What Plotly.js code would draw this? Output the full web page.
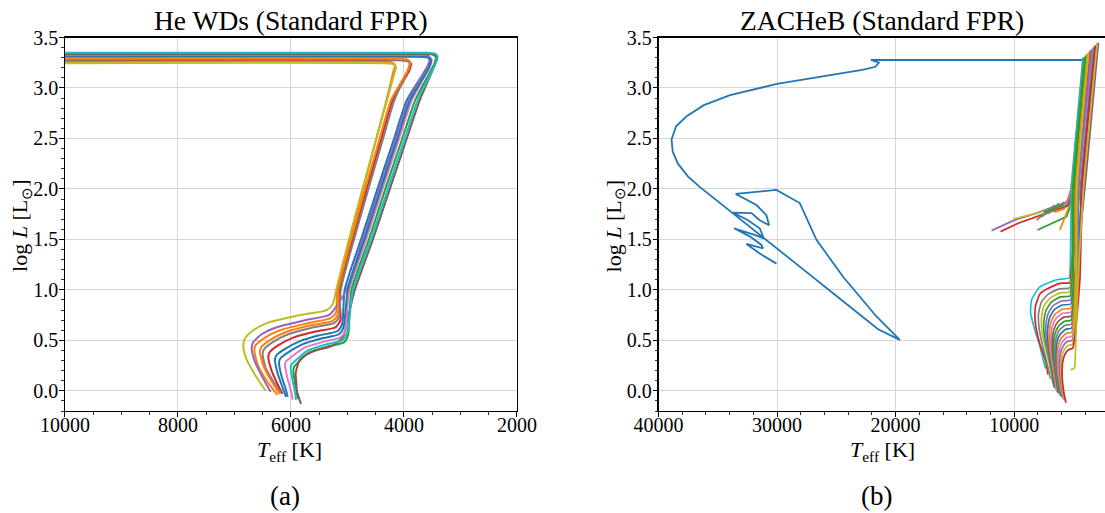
<!DOCTYPE html>
<html>
<head>
<meta charset="utf-8">
<script src="https://cdn.plot.ly/plotly-3.0.1.min.js"></script>
<style>html,body{margin:0;padding:0;background:#fff;}#chart{width:1105px;height:513px;}</style>
</head>
<body>
<div id="chart"></div>
<script>
// ---------- Panel (a): He WD tracks (Teff [K], log L) ----------
const heWdColors = ['#1f77b4','#ff7f0e','#2ca02c','#d62728','#9467bd','#8c564b','#e377c2','#7f7f7f','#bcbd22','#17becf','#1f77b4','#ff7f0e'];
const heWdTeff = [
  [10600,3770,3590,3535,3565,3950,4175,4470,4760,5050,5095,5180,5500,5850,6120,6260,6283,6240,6160,6088],
  [10600,4395,4215,4160,4190,4310,4490,4725,4960,5185,5200,5300,5700,6200,6480,6630,6650,6590,6430,6242],
  [10600,3670,3490,3435,3465,3800,4030,4330,4620,4930,4990,5060,5350,5680,5840,5940,5959,5930,5895,5882],
  [10600,4110,3930,3875,3905,4200,4400,4660,4910,5145,5125,5210,5550,5950,6230,6380,6402,6350,6250,6150],
  [10600,3785,3605,3550,3580,3920,4145,4440,4730,5020,5230,5330,5750,6250,6520,6670,6696,6640,6500,6360],
  [10600,3650,3470,3415,3445,3720,3950,4250,4550,4870,4986,5075,5250,5605,5840,5917,5905,5899,5860,5823],
  [10600,3745,3565,3510,3540,3860,4085,4380,4670,4970,5040,5120,5400,5750,5960,6090,6106,6060,6000,5970],
  [10600,4135,3955,3900,3930,4170,4370,4630,4885,5120,5150,5240,5600,6050,6330,6480,6502,6450,6320,6177],
  [10600,4375,4195,4140,4170,4300,4490,4735,4975,5200,5260,5368,5840,6430,6667,6814,6844,6785,6637,6448],
  [10600,3640,3460,3405,3435,3755,3985,4285,4580,4900,5010,5090,5380,5700,5880,5990,6005,5970,5930,5911],
  [10600,3755,3575,3520,3550,3890,4115,4410,4700,4995,5070,5150,5450,5800,6050,6190,6212,6170,6100,6058],
  [10600,4125,3945,3890,3920,4230,4430,4690,4935,5165,5175,5270,5650,6100,6380,6530,6549,6490,6350,6200]
];
const heWdLogL = [
  [3.33,3.33,3.322,3.295,3.23,2.88,2.5,2.0,1.5,1.0,0.66,0.59,0.55,0.49,0.41,0.35,0.31,0.18,0.05,-0.06],
  [3.26,3.26,3.252,3.225,3.16,2.88,2.5,2.0,1.5,1.0,0.78,0.72,0.67,0.60,0.52,0.45,0.40,0.26,0.10,-0.04],
  [3.34,3.34,3.332,3.305,3.24,2.88,2.5,2.0,1.5,1.0,0.55,0.48,0.44,0.38,0.30,0.24,0.20,0.08,-0.02,-0.08],
  [3.275,3.275,3.267,3.24,3.175,2.88,2.5,2.0,1.5,1.0,0.70,0.63,0.59,0.53,0.45,0.38,0.34,0.21,0.08,-0.03],
  [3.32,3.32,3.312,3.285,3.22,2.88,2.5,2.0,1.5,1.0,0.81,0.75,0.70,0.63,0.56,0.48,0.42,0.29,0.13,-0.01],
  [3.34,3.34,3.332,3.305,3.24,2.88,2.5,2.0,1.5,1.0,0.74,0.54,0.45,0.39,0.31,0.175,0.08,0.01,-0.07,-0.13],
  [3.315,3.315,3.307,3.28,3.215,2.88,2.5,2.0,1.5,1.0,0.60,0.53,0.49,0.43,0.35,0.29,0.25,0.12,0.0,-0.09],
  [3.28,3.28,3.272,3.245,3.18,2.88,2.5,2.0,1.5,1.0,0.73,0.67,0.63,0.56,0.48,0.41,0.36,0.23,0.10,-0.02],
  [3.245,3.245,3.237,3.21,3.145,2.88,2.5,2.0,1.5,1.0,0.86,0.80,0.75,0.67,0.60,0.52,0.44,0.31,0.16,0.0],
  [3.35,3.35,3.342,3.315,3.25,2.88,2.5,2.0,1.5,1.0,0.57,0.50,0.46,0.40,0.32,0.26,0.22,0.10,-0.01,-0.09],
  [3.31,3.31,3.302,3.275,3.21,2.88,2.5,2.0,1.5,1.0,0.63,0.56,0.52,0.46,0.38,0.32,0.28,0.15,0.03,-0.06],
  [3.29,3.29,3.282,3.255,3.19,2.88,2.5,2.0,1.5,1.0,0.75,0.69,0.65,0.58,0.50,0.43,0.38,0.25,0.10,-0.03]
];

// ---------- Panel (b): ZACHeB tracks ----------
const zacheBlueTeff = [4194,22085,21410,21705,22818,26337,30010,33967,36170,37630,38516,38895,38803,38364,37486,36524,33713,30896,28085,25274,21477,19646,21616,24431,26675,28085,30052,33486,31739,30896,30671,31461,32161,33764,32583,31461,31123,31883,33629,32304,31320,31181,32583,31461,30052];
const zacheBlueLogL = [3.277,3.277,3.25,3.21,3.18,3.11,3.04,2.93,2.83,2.72,2.62,2.49,2.37,2.25,2.12,2.02,1.76,1.495,1.23,0.967,0.61,0.505,0.736,1.13,1.495,1.86,1.99,1.95,1.84,1.74,1.64,1.69,1.76,1.765,1.70,1.61,1.51,1.545,1.61,1.53,1.445,1.41,1.455,1.36,1.26];

const zacheHookColors = ['#17becf','#d62728','#7f7f7f','#bcbd22','#2ca02c','#9467bd','#1f77b4','#ff7f0e','#e377c2','#8c564b','#2ca02c','#7f7f7f','#1f77b4','#ff7f0e','#e377c2','#9467bd','#bcbd22','#d62728','#bcbd22'];
const zacheHookTeff = [
  [4150,4700,5150,5280,5350,6420,7831,8532,8616,8250,7831,7553,7350],
  [3600,4650,5220,5300,6143,7200,7831,8200,8250,8166,7850,7553,7322,7150],
  [3300,4450,5200,5320,6200,7100,7700,7950,7900,7650,7350,7050,6950],
  [3850,4850,5150,5300,6150,6950,7500,7700,7650,7400,7100,6850,6800],
  [4050,5050,5120,5280,6100,6850,7300,7500,7450,7200,6950,6750,6700],
  [2890,4034,4950,5240,6000,6750,7150,7330,7280,7050,6800,6650,6600],
  [3100,4250,4850,5230,5950,6650,7020,7180,7130,6950,6750,6650,6624],
  [3700,4750,4800,5220,5900,6550,6900,7040,7000,6830,6650,6530,6500],
  [3400,4550,4750,5210,5850,6450,6780,6910,6870,6720,6550,6430,6400],
  [2950,4100,4700,5200,5800,6350,6670,6790,6750,6600,6450,6330,6300],
  [3950,4950,5000,5190,5750,6270,6570,6680,6640,6500,6360,6230,6200],
  [3500,4600,4650,5180,5700,6200,6470,6570,6530,6400,6260,6130,6100],
  [3200,4350,4560,5170,5650,6120,6370,6460,6430,6300,6150,6030,6000],
  [3800,4800,4850,5150,5600,6040,6280,6360,6330,6200,6050,5930,5900],
  [3050,4200,4500,5130,5550,5960,6180,6260,6230,6120,5980,5870,5850],
  [3450,4580,4600,5110,5500,5880,6080,6160,6130,6030,5900,5800,5780],
  [3750,4700,4750,5090,5450,5800,5990,6060,6030,5930,5800,5720,5700],
  [3150,4300,4460,5070,5400,5720,5890,5960,5930,5830,5720,5660,5640],
  [3000,4150,4600,4800,4876,4950,5250]
];
const zacheHookLogL = [
  [3.30,2.6,2.0,1.2,1.12,1.10,1.03,0.90,0.77,0.60,0.44,0.31,0.22],
  [3.36,2.0,1.14,1.07,1.065,1.01,0.96,0.84,0.74,0.63,0.47,0.37,0.28,0.16],
  [3.40,2.0,1.08,1.02,1.01,0.96,0.88,0.76,0.62,0.47,0.33,0.18,0.12],
  [3.33,2.0,1.1,0.98,0.97,0.92,0.84,0.72,0.58,0.44,0.30,0.15,0.09],
  [3.31,2.0,1.1,0.94,0.93,0.88,0.80,0.68,0.54,0.40,0.26,0.12,0.06],
  [3.45,2.0,1.1,0.90,0.89,0.84,0.76,0.64,0.50,0.36,0.22,0.09,0.04],
  [3.42,2.0,1.1,0.86,0.85,0.80,0.72,0.60,0.46,0.32,0.19,0.08,0.03],
  [3.35,2.0,1.1,0.82,0.81,0.76,0.68,0.56,0.42,0.29,0.16,0.06,0.01],
  [3.39,2.0,1.1,0.78,0.77,0.72,0.64,0.52,0.39,0.26,0.13,0.03,-0.01],
  [3.44,2.0,1.1,0.74,0.73,0.68,0.60,0.48,0.35,0.23,0.11,0.02,-0.02],
  [3.32,2.0,1.1,0.70,0.69,0.64,0.56,0.44,0.32,0.20,0.09,0.0,-0.03],
  [3.37,2.0,1.1,0.66,0.65,0.60,0.52,0.41,0.29,0.17,0.06,-0.02,-0.05],
  [3.41,2.0,1.1,0.62,0.61,0.56,0.49,0.38,0.26,0.14,0.03,-0.04,-0.06],
  [3.34,2.0,1.1,0.58,0.57,0.52,0.45,0.34,0.22,0.10,0.0,-0.05,-0.07],
  [3.43,2.0,1.1,0.54,0.53,0.48,0.41,0.31,0.19,0.08,-0.02,-0.06,-0.08],
  [3.38,2.0,1.1,0.50,0.49,0.44,0.38,0.28,0.16,0.05,-0.04,-0.08,-0.09],
  [3.35,2.0,1.1,0.46,0.45,0.40,0.34,0.25,0.13,0.02,-0.06,-0.09,-0.10],
  [3.42,2.0,1.1,0.42,0.41,0.36,0.30,0.21,0.10,0.0,-0.07,-0.10,-0.12],
  [3.44,2.0,1.1,0.5,0.26,0.22,0.21]
];

const zacheTailColors = ['#9467bd','#d62728','#bcbd22','#2ca02c','#7f7f7f','#ff7f0e','#2ca02c','#1f77b4','#ff7f0e','#e377c2','#8c564b'];
const zacheTailTeff = [
  [11907,10084,8110,6987,5578,5200,3250],
  [11148,9662,7266,5578,5250,4300,3350],
  [10084,8500,6800,5500,5200,3650],
  [8025,6420,5578,5350,5100,3900],
  [8110,6600,7700,6200,7200,5800,6500,5500,5250,4200],
  [6143,5700,5450,5300,5050,3550],
  [7500,7000,5600,5350,5150,3500],
  [5900,5450,5250,5000,3000],
  [6600,5800,5450,5200,3700],
  [5800,5450,5300,5100,3300],
  [5700,5400,5200,4950,3150]
];
const zacheTailLogL = [
  [1.587,1.686,1.76,1.81,1.86,2.0,3.41],
  [1.577,1.66,1.76,1.83,1.95,2.6,3.39],
  [1.70,1.75,1.80,1.85,2.0,3.36],
  [1.594,1.676,1.726,1.80,2.0,3.33],
  [1.69,1.84,1.72,1.86,1.75,1.87,1.80,1.88,1.95,3.30],
  [1.594,1.72,1.80,1.88,2.05,3.37],
  [1.77,1.79,1.85,1.88,2.0,3.38],
  [1.80,1.84,1.92,2.1,3.44],
  [1.77,1.80,1.86,2.0,3.35],
  [1.84,1.86,1.92,2.05,3.40],
  [1.82,1.85,1.93,2.1,3.42]
];

// ---------- build traces ----------
const traces = [];
heWdTeff.forEach((t, i) => traces.push({
  x: t, y: heWdLogL[i], xaxis: 'x', yaxis: 'y', mode: 'lines', hoverinfo: 'skip',
  line: {color: heWdColors[i], width: 2, shape: 'spline', smoothing: 0.6}
}));
traces.push({
  x: zacheBlueTeff, y: zacheBlueLogL, xaxis: 'x2', yaxis: 'y2', mode: 'lines', hoverinfo: 'skip',
  line: {color: '#1f77b4', width: 1.8}
});
zacheTailTeff.forEach((t, i) => traces.push({
  x: t, y: zacheTailLogL[i], xaxis: 'x2', yaxis: 'y2', mode: 'lines', hoverinfo: 'skip',
  line: {color: zacheTailColors[i], width: 1.7}
}));
zacheHookTeff.forEach((t, i) => traces.push({
  x: t, y: zacheHookLogL[i], xaxis: 'x2', yaxis: 'y2', mode: 'lines', hoverinfo: 'skip',
  line: {color: zacheHookColors[i], width: 1.7, shape: 'spline', smoothing: 0.5}
}));

const FONT = 'Liberation Serif, Times New Roman, serif';
const axisBase = {
  showline: true, linecolor: 'black', linewidth: 1.2,
  ticks: 'outside', ticklen: 4.5, tickwidth: 1, tickcolor: 'black',
  showgrid: true, gridcolor: '#d6d6d6', gridwidth: 1, zeroline: false,
  tickfont: {family: FONT, size: 20, color: 'black'}
};
const yDomain = [0.19883, 0.92690];

const layout = {
  width: 1105, height: 513,
  margin: {l: 0, r: 0, t: 0, b: 0},
  paper_bgcolor: 'white', plot_bgcolor: 'white', showlegend: false,
  font: {family: FONT, color: 'black'},
  xaxis: Object.assign({}, axisBase, {
    domain: [0.05882, 0.46787], range: [10000, 2000], anchor: 'y', mirror: true,
    dtick: 2000, tick0: 0, tickformat: 'd', ticklabelstandoff: -9,
    minor: {ticks: 'outside', dtick: 500, tick0: 0, ticklen: 2.5, tickwidth: 0.8, tickcolor: 'black', showgrid: false}
  }),
  yaxis: Object.assign({}, axisBase, {
    domain: yDomain, range: [-0.2, 3.5], anchor: 'x', mirror: true,
    dtick: 0.5, tick0: 0, tickformat: '.1f', ticklabelstandoff: -3,
    minor: {ticks: 'outside', dtick: 0.1, tick0: 0, ticklen: 2.5, tickwidth: 0.8, tickcolor: 'black', showgrid: false}
  }),
  xaxis2: Object.assign({}, axisBase, {
    domain: [0.59593, 1], range: [40000, 2340], anchor: 'y2', mirror: true,
    dtick: 10000, tick0: 0, tickformat: 'd', ticklabelstandoff: -9,
    minor: {ticks: 'outside', dtick: 2000, tick0: 0, ticklen: 2.5, tickwidth: 0.8, tickcolor: 'black', showgrid: false}
  }),
  yaxis2: Object.assign({}, axisBase, {
    domain: yDomain, range: [-0.2, 3.5], anchor: 'x2', mirror: false,
    dtick: 0.5, tick0: 0, tickformat: '.1f', ticklabelstandoff: -3,
    minor: {ticks: 'outside', dtick: 0.1, tick0: 0, ticklen: 2.5, tickwidth: 0.8, tickcolor: 'black', showgrid: false}
  }),
  annotations: [
    {text: 'He WDs (Standard FPR)', x: 0.2638, y: 0.960, xref: 'paper', yref: 'paper', xanchor: 'center', yanchor: 'middle', showarrow: false, font: {family: FONT, size: 27.5, color: 'black'}},
    {text: 'ZACHeB (Standard FPR)', x: 0.7978, y: 0.960, xref: 'paper', yref: 'paper', xanchor: 'center', yanchor: 'middle', showarrow: false, font: {family: FONT, size: 27.5, color: 'black'}},
    {text: '<i>T</i><sub>eff</sub> [K]', x: 0.2624, y: 0.1209, xref: 'paper', yref: 'paper', xanchor: 'center', yanchor: 'middle', showarrow: false, font: {family: FONT, size: 22, color: 'black'}},
    {text: '<i>T</i><sub>eff</sub> [K]', x: 0.7986, y: 0.1209, xref: 'paper', yref: 'paper', xanchor: 'center', yanchor: 'middle', showarrow: false, font: {family: FONT, size: 22, color: 'black'}},
    {text: 'log <i>L</i> [L<sub>⊙</sub>]', x: 0.019, y: 0.5595, xref: 'paper', yref: 'paper', xanchor: 'center', yanchor: 'middle', textangle: -90, showarrow: false, font: {family: FONT, size: 22, color: 'black'}},
    {text: 'log <i>L</i> [L<sub>⊙</sub>]', x: 0.5561, y: 0.5595, xref: 'paper', yref: 'paper', xanchor: 'center', yanchor: 'middle', textangle: -90, showarrow: false, font: {family: FONT, size: 22, color: 'black'}},
    {text: '(a)', x: 0.2579, y: 0.0331, xref: 'paper', yref: 'paper', xanchor: 'center', yanchor: 'middle', showarrow: false, font: {family: FONT, size: 27, color: 'black'}},
    {text: '(b)', x: 0.7928, y: 0.0331, xref: 'paper', yref: 'paper', xanchor: 'center', yanchor: 'middle', showarrow: false, font: {family: FONT, size: 27, color: 'black'}}
  ]
};

Plotly.newPlot('chart', traces, layout, {staticPlot: true, displayModeBar: false});
</script>
</body>
</html>
